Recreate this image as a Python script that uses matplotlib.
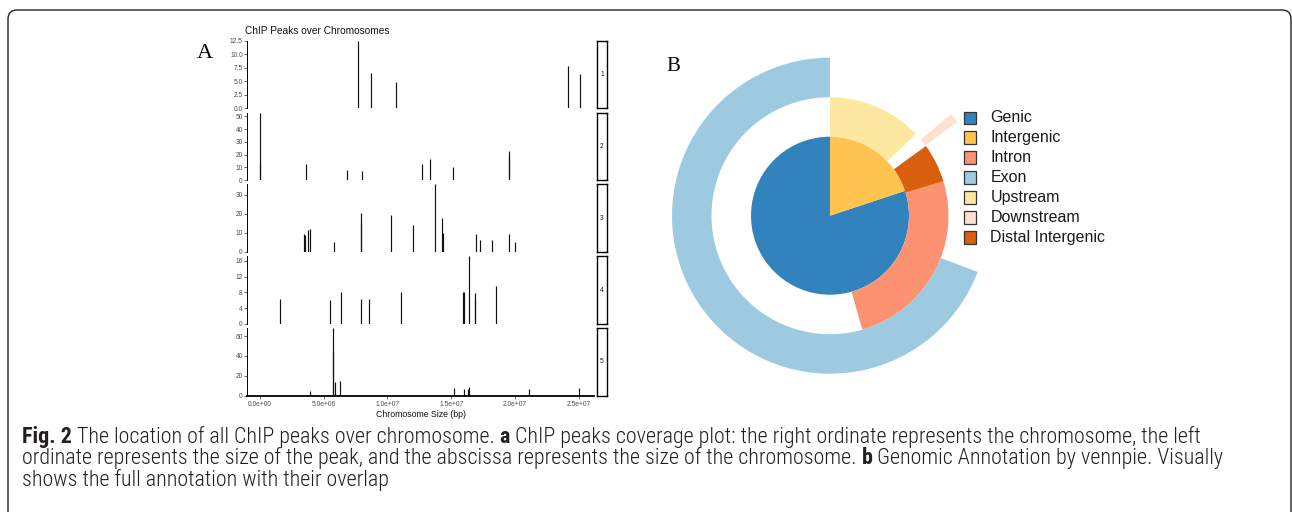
import numpy as np
import matplotlib
matplotlib.use('Agg')
import matplotlib.pyplot as plt
from matplotlib.patches import Wedge, Rectangle, FancyBboxPatch
from matplotlib import font_manager

W, H = 1292, 512

# ---- panel A: peaks per chromosome (position in Mb, peak size)
chroms = ['1', '2', '3', '4', '5']
chr1_pos = [7.68, 8.70, 10.66, 24.19, 25.10]
chr1_h = [12.5, 6.5, 4.8, 7.8, 6.3]
chr2_pos = [0.05, 0.05, 3.66, 6.84, 8.02, 12.72, 13.32, 15.15, 19.51, 19.53]
chr2_h = [53, 13, 12.5, 8, 7.5, 12.5, 16.5, 10.5, 23, 19]
chr3_pos = [3.45, 3.58, 3.81, 3.92, 5.80, 7.92, 7.93, 10.29, 11.99, 13.71,
            14.32, 14.39, 16.93, 17.24, 18.23, 19.51, 20.01]
chr3_h = [9.5, 9, 11.5, 12, 5, 20.5, 15, 19.5, 14, 35.5, 18, 10, 9.5, 6.5,
          6.5, 9.2, 5]
chr4_pos = [1.59, 5.49, 6.40, 7.97, 8.54, 11.10, 15.91, 15.99, 16.43, 16.85,
            16.87, 18.55]
chr4_h = [6.3, 6, 8, 6.3, 6.3, 8, 8, 8, 17.2, 7.8, 6.3, 9.7]
chr5_pos = [3.97, 5.77, 5.78, 5.90, 6.32, 15.23, 16.04, 16.35, 16.43, 21.13, 25.0]
chr5_h = [4.5, 68, 45, 13.5, 14.5, 7.5, 7, 7, 8.5, 6.5, 8]
peak_pos = [chr1_pos, chr2_pos, chr3_pos, chr4_pos, chr5_pos]
peak_h = [chr1_h, chr2_h, chr3_h, chr4_h, chr5_h]
y_ticks = [[0, 2.5, 5, 7.5, 10, 12.5], [0, 10, 20, 30, 40, 50], [0, 10, 20, 30],
           [0, 4, 8, 12, 16], [0, 20, 40, 60]]
y_fmt = ['{:.1f}', '{:g}', '{:g}', '{:g}', '{:g}']
x_ticks = [0, 5e6, 1e7, 1.5e7, 2e7, 2.5e7]

# ---- panel B: vennpie (fractions of the circle, clockwise from 12 o'clock)
ring_labels = ['Genic', 'Intergenic', 'Intron', 'Exon', 'Upstream',
               'Downstream', 'Distal Intergenic']
ring_start = [0.199, 0.0, 0.203, 0.308, 0.0, 0.139, 0.150]
ring_frac = [0.801, 0.199, 0.253, 0.692, 0.129, 0.010, 0.053]
ring_level = [0, 0, 1, 2, 1, 2, 1]
ring_colors = ['#3182BD', '#FEC44F', '#FC9272', '#9ECAE1', '#FEE8A1',
               '#FEE0D2', '#D95F0E']

caption_lines = [
    [('Fig. 2', True), ('The location of all ChIP peaks over chromosome.', False),
     ('a', True), ('ChIP peaks coverage plot: the right ordinate represents the chromosome, the left', False)],
    [('ordinate represents the size of the peak, and the abscissa represents the size of the chromosome.', False),
     ('b', True), ('Genomic Annotation by vennpie. Visually', False)],
    [('shows the full annotation with their overlap', False)],
]

installed = {f.name for f in font_manager.fontManager.ttflist}
cap_font = next((f for f in ['Liberation Sans Narrow', 'Roboto Condensed',
                             'Open Sans Condensed', 'Roboto', 'DejaVu Sans']
                 if f in installed), 'DejaVu Sans')
sans = 'Liberation Sans'

fig = plt.figure(figsize=(W / 100, H / 100), dpi=100)


def px_axes(x0, y0, x1, y1):
    return fig.add_axes([x0 / W, 1 - y1 / H, (x1 - x0) / W, (y1 - y0) / H])


bg = fig.add_axes([0, 0, 1, 1])
bg.set_xlim(0, W)
bg.set_ylim(H, 0)
bg.axis('off')
bg.add_patch(FancyBboxPatch((8, 10), 1283, 530, boxstyle='round,pad=0,rounding_size=9',
                            fill=False, ec='#231F20', lw=1.0))

# ---- panel A
tick_col = '#4D4D4D'
row_top, row_step, row_h = 40.7, 71.85, 67.6
for i, ch in enumerate(chroms):
    top = row_top + i * row_step
    ax = px_axes(247, top, 594, top + row_h)
    pos = np.array(peak_pos[i]) * 1e6
    ax.vlines(pos, 0, peak_h[i], color='#111111', lw=0.85)
    ax.set_xlim(-1.0e6, 26.2e6)
    ax.set_ylim(0, max(peak_h[i]))
    for s in ['top', 'right']:
        ax.spines[s].set_visible(False)
    ax.spines['left'].set_linewidth(0.7)
    ax.set_yticks(y_ticks[i])
    ax.set_yticklabels([y_fmt[i].format(v) for v in y_ticks[i]])
    ax.tick_params(axis='y', length=2, width=0.5, pad=1, labelsize=4.8,
                   labelcolor=tick_col, color='#333333')
    if i < len(chroms) - 1:
        ax.spines['bottom'].set_visible(False)
        ax.set_xticks([])
    else:
        ax.spines['bottom'].set_linewidth(1.3)
        ax.set_xticks(x_ticks)
        ax.set_xticklabels(['{:.1e}'.format(v) for v in x_ticks])
        ax.tick_params(axis='x', length=2, width=0.5, pad=1.5, labelsize=4.8,
                       labelcolor=tick_col, color='#333333')
        ax.set_xlabel('Chromosome Size (bp)', fontsize=6.3, family=sans,
                      labelpad=1.5, color='#111111')
    for lab in ax.get_xticklabels() + ax.get_yticklabels():
        lab.set_family(sans)

    st = px_axes(596.7, top, 607.3, top + row_h)
    st.set_xticks([])
    st.set_yticks([])
    for s in st.spines.values():
        s.set_linewidth(1.0)
        s.set_color('black')
    st.text(0.5, 0.5, ch, transform=st.transAxes, ha='center',
            va='center', fontsize=4.8, color='#1A1A1A', family=sans)

bg.text(245, 31, 'ChIP Peaks over Chromosomes', fontsize=7.3, family=sans,
        va='center', ha='left', color='#111111')
bg.text(197, 58.3, 'A', fontsize=16, family='Liberation Serif', va='baseline')

# ---- panel B
cx, cy, R = 830, 215.7, 170
pa = px_axes(cx - R, cy - R, cx + R, cy + R)
pa.set_xlim(-R, R)
pa.set_ylim(-R, R)
pa.axis('off')
radii = [(0, 79), (79, 118.5), (118.5, 158)]
for lab, st0, fr, lev, col in zip(ring_labels, ring_start, ring_frac, ring_level, ring_colors):
    r_in, r_out = radii[lev]
    a0, a1 = st0 * 360, (st0 + fr) * 360
    pa.add_patch(Wedge((0, 0), r_out, 90 - a1, 90 - a0, width=r_out - r_in,
                       facecolor=col, edgecolor='none'))
bg.text(666, 71, 'B', fontsize=15, family='Liberation Serif', va='baseline')

for i, (lab, col) in enumerate(zip(ring_labels, ring_colors)):
    yc = 117.7 + i * 19.93
    bg.add_patch(Rectangle((963.5, yc - 6.2), 12.5, 12.5, fc=col, ec='#333333', lw=0.9))
    bg.text(990.5, yc, lab, fontsize=11.5, family=sans, va='center', ha='left',
            color='#1A1A1A')

# ---- caption
renderer = fig.canvas.get_renderer()


def text_w(s, size, bold):
    t = bg.text(0, 0, s, fontsize=size, family=cap_font,
                fontweight='bold' if bold else 'light')
    w = t.get_window_extent(renderer).width
    t.remove()
    return w


def line_w(runs, size):
    sp = text_w('a a', size, False) - text_w('aa', size, False)
    return sum(text_w(s, size, b) for s, b in runs) + sp * (len(runs) - 1)


size = 10 * 1205 / line_w(caption_lines[1], 10)
sp = text_w('a a', size, False) - text_w('aa', size, False)
for j, runs in enumerate(caption_lines):
    x = 22
    y = 443 + j * 21.3
    for s, b in runs:
        t = bg.text(x, y, s, fontsize=size, family=cap_font, va='baseline', ha='left',
                    fontweight='bold' if b else 'light', color='#231F20')
        x += t.get_window_extent(renderer).width + sp

fig.savefig('out.png', dpi=100)
